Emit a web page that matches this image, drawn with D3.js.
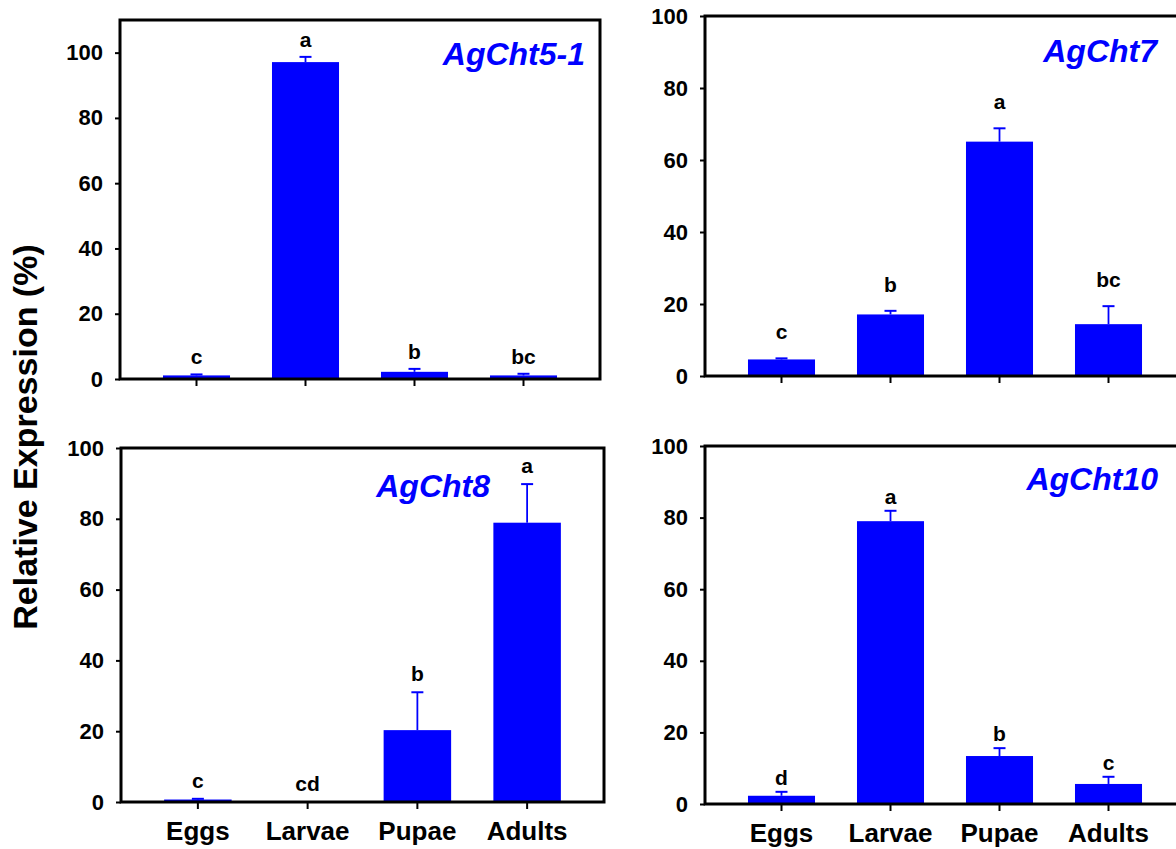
<!DOCTYPE html>
<html>
<head>
<meta charset="utf-8">
<script src="https://cdn.jsdelivr.net/npm/d3@7"></script>
<style>
	html, body { margin: 0; padding: 0; background: #fff; }
	svg { display: block; }
	text { font-family: Arial, 'Liberation Sans', sans-serif; }
</style>
</head>
<body>
<div id="chart"></div>
<script>
const stages = ['Eggs', 'Larvae', 'Pupae', 'Adults'];
const yTicks = [0, 20, 40, 60, 80, 100];

const cht51Mean = [1.1, 97.1, 2.2, 1.1];
const cht51Err = [0.3, 1.6, 0.9, 0.5];
const cht51Letters = ['c', 'a', 'b', 'bc'];

const cht7Mean = [4.6, 17.1, 65.1, 14.4];
const cht7Err = [0.3, 1.0, 3.7, 5.0];
const cht7Letters = ['c', 'b', 'a', 'bc'];

const cht8Mean = [0.7, 0.05, 20.3, 78.9];
const cht8Err = [0.2, 0, 10.7, 10.9];
const cht8Letters = ['c', 'cd', 'b', 'a'];

const cht10Mean = [2.3, 79.0, 13.4, 5.6];
const cht10Err = [1.1, 2.9, 2.2, 2.0];
const cht10Letters = ['d', 'a', 'b', 'c'];

// layout for each panel (positions in px, not data)
const panels = [
	{ gene: 'AgCht5-1', mean: cht51Mean, err: cht51Err, letters: cht51Letters, yMax: 110,
		x: 120, y: 20, w: 480, h: 359, labelX: 585, labelY: 65, gap: 10, showX: false },
	{ gene: 'AgCht7', mean: cht7Mean, err: cht7Err, letters: cht7Letters, yMax: 100,
		x: 705, y: 16, w: 480, h: 360, labelX: 1157, labelY: 62, gap: 19, showX: false },
	{ gene: 'AgCht8', mean: cht8Mean, err: cht8Err, letters: cht8Letters, yMax: 100,
		x: 121, y: 448, w: 483, h: 354, labelX: 490, labelY: 497, gap: 11, showX: true },
	{ gene: 'AgCht10', mean: cht10Mean, err: cht10Err, letters: cht10Letters, yMax: 100,
		x: 705, y: 446, w: 480, h: 358, labelX: 1158, labelY: 490, gap: 7, showX: true }
];

const blue = '#0000FF';

let svg = d3.select('#chart').append('svg')
	.attr('width', 1176)
	.attr('height', 849);

const drawPanel = function (p) {
	let g = svg.append('g').attr('transform', `translate(${p.x},${p.y})`);

	let xScale = d3.scaleBand()
		.domain(stages)
		.range([22, p.w - 22])
		.paddingInner(0.385)
		.paddingOuter(0.1925);

	let yScale = d3.scaleLinear()
		.domain([0, p.yMax])
		.range([p.h, 0]);

	let rows = stages.map((s, i) => ({ stage: s, mean: p.mean[i], err: p.err[i], letter: p.letters[i] }));

	// y axis
	let yAxis = g.append('g')
		.call(d3.axisLeft(yScale).tickValues(yTicks).tickSize(5).tickPadding(12));
	yAxis.select('.domain').remove();
	yAxis.selectAll('line').attr('stroke', '#000').attr('stroke-width', 2);
	yAxis.selectAll('text')
		.attr('fill', '#000')
		.style('font-size', '22px')
		.style('font-weight', 'bold');

	// x axis
	let xAxis = g.append('g')
		.attr('transform', `translate(0,${p.h})`)
		.call(d3.axisBottom(xScale).tickSize(7).tickPadding(13)
			.tickFormat(d => p.showX ? d : ''));
	xAxis.select('.domain').remove();
	xAxis.selectAll('line').attr('stroke', '#000').attr('stroke-width', 2);
	xAxis.selectAll('text')
		.attr('fill', '#000')
		.style('font-size', '26px')
		.style('font-weight', 'bold');

	let bar = g.selectAll('.bar')
		.data(rows)
		.enter().append('g')
		.attr('class', 'bar');

	bar.append('rect')
		.attr('x', d => xScale(d.stage))
		.attr('width', xScale.bandwidth())
		.attr('y', d => yScale(d.mean))
		.attr('height', d => p.h - yScale(d.mean))
		.attr('fill', blue);

	// error bars, upper side only
	let cx = d => xScale(d.stage) + xScale.bandwidth() / 2;
	bar.filter(d => d.err > 0).append('line')
		.attr('x1', cx).attr('x2', cx)
		.attr('y1', d => yScale(d.mean))
		.attr('y2', d => yScale(d.mean + d.err))
		.attr('stroke', blue)
		.attr('stroke-width', 1.8);
	bar.filter(d => d.err > 0).append('line')
		.attr('x1', d => cx(d) - 6).attr('x2', d => cx(d) + 6)
		.attr('y1', d => yScale(d.mean + d.err))
		.attr('y2', d => yScale(d.mean + d.err))
		.attr('stroke', blue)
		.attr('stroke-width', 2);

	bar.append('text')
		.attr('x', cx)
		.attr('y', d => yScale(d.mean + d.err) - p.gap)
		.attr('text-anchor', 'middle')
		.style('font-size', '21px')
		.style('font-weight', 'bold')
		.text(d => d.letter);

	// frame
	g.append('rect')
		.attr('x', 0).attr('y', 0)
		.attr('width', p.w).attr('height', p.h)
		.attr('fill', 'none')
		.attr('stroke', '#000')
		.attr('stroke-width', 3);

	svg.append('text')
		.attr('x', p.labelX)
		.attr('y', p.labelY)
		.attr('text-anchor', 'end')
		.attr('fill', blue)
		.style('font-size', '32px')
		.style('font-weight', 'bold')
		.style('font-style', 'italic')
		.text(p.gene);
}

panels.forEach(drawPanel);

svg.append('text')
	.attr('transform', 'translate(37,437) rotate(-90)')
	.attr('text-anchor', 'middle')
	.style('font-size', '34px')
	.style('font-weight', 'bold')
	.text('Relative Expression (%)');
</script>
</body>
</html>
